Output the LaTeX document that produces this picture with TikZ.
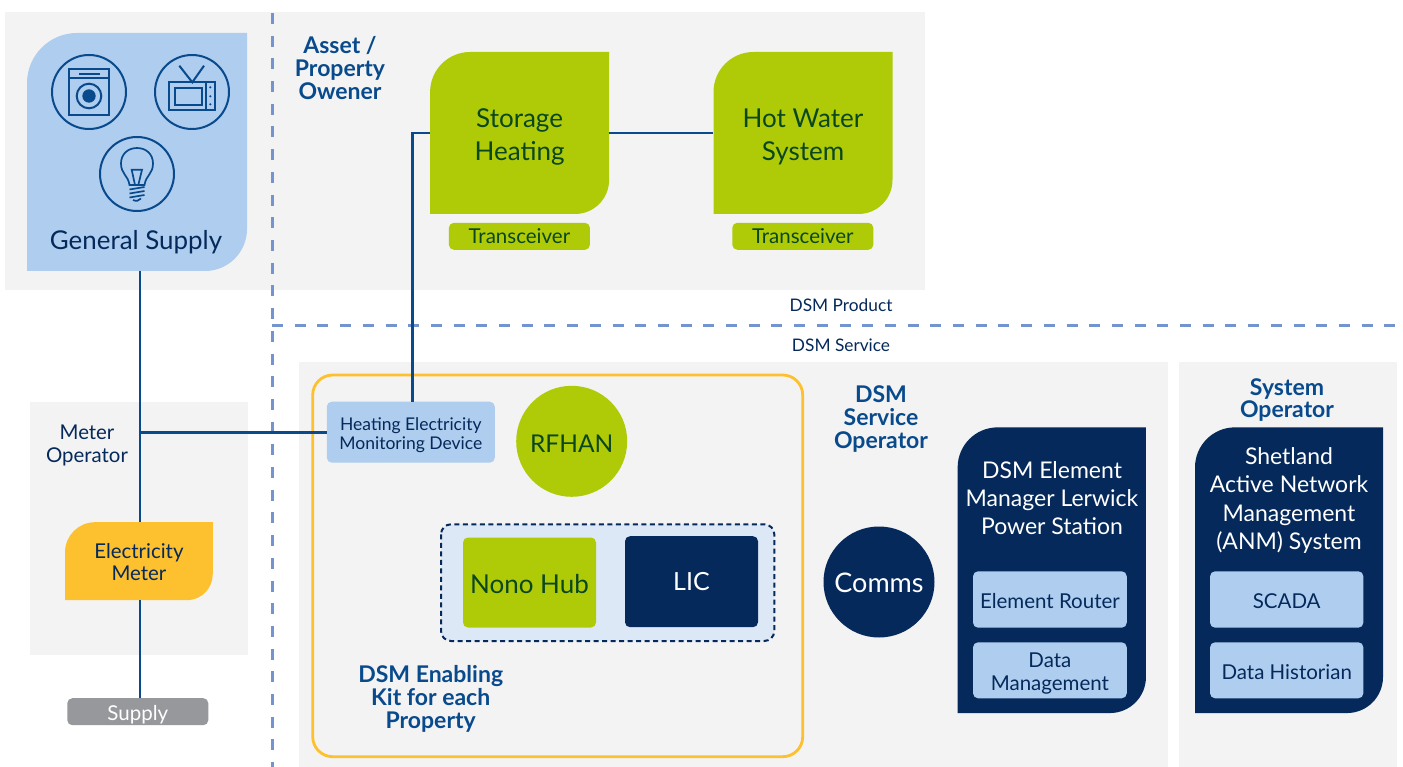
\documentclass[tikz,border=0pt]{standalone}
\usepackage{fontspec}
\setmainfont{Lato}
\usetikzlibrary{calc,shapes}
\definecolor{panelgrey}{RGB}{243,243,243}
\definecolor{lightblue}{RGB}{175,205,238}
\definecolor{paleblue}{RGB}{221,232,247}
\definecolor{navy}{RGB}{4,41,90}
\definecolor{wireblue}{RGB}{8,74,140}
\definecolor{dashblue}{RGB}{116,148,208}
\definecolor{leafgreen}{RGB}{175,203,8}
\definecolor{darkgreen}{RGB}{10,70,30}
\definecolor{amber}{RGB}{253,192,47}
\definecolor{supplygrey}{RGB}{151,152,156}
\newcommand{\fs}[1]{\fontsize{#1}{#1}\selectfont}
\tikzset{
  panel/.style={fill=panelgrey},
  wire/.style={draw=wireblue,line width=2.7pt},
  divider/.style={draw=dashblue,line width=3pt,dash pattern=on 11pt off 11.7pt},
  icon/.style={draw=wireblue,line width=2pt},
  leaf/.style n args={5}{minimum width=#1,minimum height=#2,inner sep=0pt,align=center,
    path picture={\fill[#3] (path picture bounding box.south west)
      [rounded corners=#4] -- (path picture bounding box.north west)
      [sharp corners] -- (path picture bounding box.north east)
      [rounded corners=#5] -- (path picture bounding box.south east)
      [sharp corners] -- cycle;}},
  tag/.style n args={3}{minimum width=#1,minimum height=#2,inner sep=0pt,align=center,fill=#3,rounded corners=5pt},
  lowered/.style={text height=#1,text depth=0pt},
  heading/.style={align=center,text=wireblue,font=\fs{23}\bfseries},
  caption/.style={text=navy,align=center,font=\fs{17.3}},
}

\begin{document}
\begin{tikzpicture}[x=1pt,y=-1pt]
  \useasboundingbox (0,0) rectangle (1403,767);
  \fill[white] (0,0) rectangle (1403,767);
  \fill[panel] (5,12) rectangle (925,290);
  \fill[panel] (30,402) rectangle (248,655);
  \fill[panel] (299,362) rectangle (1168,767);
  \fill[panel] (1179,362) rectangle (1397,767);
  \draw[divider] (272,13) -- (272,767);
  \draw[divider] (272,326) -- (1397,326);

  % kit outline and hub group
  \draw[draw=amber,line width=2.8pt,rounded corners=20pt] (312.7,375) rectangle (802.7,756.7);
  \draw[draw=navy,fill=paleblue,line width=2pt,dash pattern=on 5pt off 3.5pt,rounded corners=10pt] (441,524.3) rectangle (774.3,641);

  \node (general) [leaf={220pt}{238pt}{lightblue}{50pt}{42pt}] at (137,152) {};
  \node (generaltext) [text=navy,font=\fs{25.9}] at (136,242) {General Supply};
  \node (storage) [leaf={179pt}{162pt}{leafgreen}{40pt}{34pt}] at (519.6,133) {};
  \node (storagetext) [text=darkgreen,align=center,font=\fs{26}] at (519.6,136.5) {Storage\\[7pt]Heating};
  \node (hotwater) [leaf={179pt}{162pt}{leafgreen}{40pt}{34pt}] at (803,133) {};
  \node (hotwatertext) [text=darkgreen,align=center,font=\fs{26}] at (803,136.5) {Hot Water\\[7pt]System};
  \node (transceiverA) [tag={141pt}{27pt}{leafgreen},text=darkgreen,font=\fs{20.5}] at (519.4,236.3) {Transceiver};
  \node (transceiverB) [tag={141pt}{27pt}{leafgreen},text=darkgreen,font=\fs{20.5}] at (802.8,236.3) {Transceiver};
  \node (monitor) [tag={168pt}{61pt}{lightblue}] at (410.8,432.2) {};
  \node (monitortext) [text=navy,align=center,font=\fs{17.5}] at (410.8,434.7) {Heating Electricity\\[1.5pt]Monitoring Device};
  \node (rfhan) [circle,minimum size=111pt,inner sep=0pt,fill=leafgreen,text=darkgreen,font=\fs{24.5},lowered=23pt] at (571.7,441.3) {RFHAN};
  \node (nono) [tag={133pt}{90pt}{leafgreen},text=darkgreen,font=\fs{26},lowered=22pt] at (529.5,582.5) {Nono Hub};
  \node (lic) [tag={133pt}{91pt}{navy},text=white,font=\fs{25}] at (691.5,581.7) {LIC};
  \node (comms) [circle,minimum size=111pt,inner sep=0pt,fill=navy,text=white,font=\fs{27},lowered=21pt] at (879,582) {Comms};
  \node (meter) [leaf={147.7pt}{78pt}{amber}{30pt}{26pt}] at (138.9,561.2) {};
  \node (metertext) [text=navy,align=center,font=\fs{20.4}] at (138.9,562.2) {Electricity\\[2pt]Meter};
  \node (supply) [tag={141pt}{27pt}{supplygrey},text=white,font=\fs{20.5},lowered=18pt] at (137.8,711.7) {Supply};
  \node (element) [leaf={188.3pt}{285.7pt}{navy}{40pt}{36pt}] at (1051.8,570.2) {};
  \node (elementtext) [text=white,align=center,font=\fs{23}] at (1052,498) {DSM Element\\[5pt]Manager Lerwick\\[5pt]Power Station};
  \node (anm) [leaf={188pt}{285.7pt}{navy}{40pt}{36pt}] at (1289,570.2) {};
  \node (anmtext) [text=white,align=center,font=\fs{23}] at (1289,500.5) {Shetland\\[5.3pt]Active Network\\[5.3pt]Management\\[5.3pt](ANM) System};
  \node (router) [tag={153.7pt}{56.4pt}{lightblue},text=navy,font=\fs{20.5},lowered=18pt] at (1049.9,599.5) {Element Router};
  \node (datamgmt) [tag={153.7pt}{56pt}{lightblue}] at (1049.9,670.3) {};
  \node (datamgmttext) [text=navy,align=center,font=\fs{20.5}] at (1049.9,673.3) {Data\\[2pt]Management};
  \node (scada) [tag={153.3pt}{56.4pt}{lightblue},text=navy,font=\fs{20.5},lowered=18pt] at (1286.7,599.5) {SCADA};
  \node (historian) [tag={153.3pt}{56pt}{lightblue},text=navy,font=\fs{20.5},lowered=18pt] at (1286.7,670.3) {Data Historian};

  % labels
  \node (owner) [heading] at (340,68.5) {Asset /\\Property\\Owener};
  \node (meterop) [caption,font=\fs{20.4}] at (87,445) {Meter\\[2.5pt]Operator};
  \node (kit) [heading] at (430.7,699) {DSM Enabling\\Kit for each\\Property};
  \node (dsmop) [heading] at (881,419) {DSM\\Service\\Operator};
  \node (sysop) [heading] at (1287,400) {System\\[-1pt]Operator};
  \node (product) [caption] at (841,305) {DSM Product};
  \node (service) [caption] at (841,345) {DSM Service};

  % connectors
  \coordinate (tap) at (140,432.2);
  \draw[wire] (storage.east) -- (hotwater.west);
  \draw[wire] (storage.west) -| ([xshift=1.7pt]monitor.north);
  \draw[wire] (monitor.west) -- (tap);
  \draw[wire] (general.south -| tap) -- (meter.north -| tap);
  \draw[wire] (meter.south -| tap) -- (supply.north -| tap);

  % washer
  \draw[icon] (89,92) circle (37);
  \draw[icon] (69.3,69.3) rectangle (108.7,114.7);
  \draw[icon] (69.3,78.3) -- (108.7,78.3);
  \draw[icon] (79,73.6) -- (100,73.6);
  \draw[icon] (89,96) circle (12.3);
  \fill[wireblue] (89,96) circle (6.7);
  % television
  \draw[icon] (192,92) circle (37);
  \draw[icon] (169.3,82.3) rectangle (215.3,110.3);
  \draw[icon] (175.3,88.3) rectangle (202.3,105);
  \draw[icon] (179.3,65.7) -- (192.3,82.3) -- (204,65.7);
  \draw[icon] (205.7,82.3) -- (205.7,110.3);
  \foreach \y in {87.3,96.3,104.3}
    \fill[wireblue] (210.3,\y) circle (1.2);
  % bulb
  \draw[icon] (137,174) circle (37);
  \draw[icon,line width=1.7pt] (129.5,185) .. controls (128,175) and (121,174) .. (121,163.5) .. controls (121,154) and (128,148) .. (137,148) .. controls (146,148) and (153,154) .. (153,163.5) .. controls (153,174) and (146,175) .. (144.5,185) -- cycle;
  \draw[icon,line width=1.7pt] (135,185) -- (131.7,169.8) -- (142,169.8) -- (138.3,185);
  \draw[icon,line width=1.7pt] (129.5,189.5) -- (144.5,187);
  \draw[icon,line width=1.7pt] (129.5,193.5) -- (144.5,191);
  \draw[icon,line width=1.7pt] (129.5,197.5) -- (144.5,195);
  \draw[icon,line width=1.7pt] (133,200) .. controls (136,201.5) and (139,201) .. (141,198.5);
\end{tikzpicture}
\end{document}
